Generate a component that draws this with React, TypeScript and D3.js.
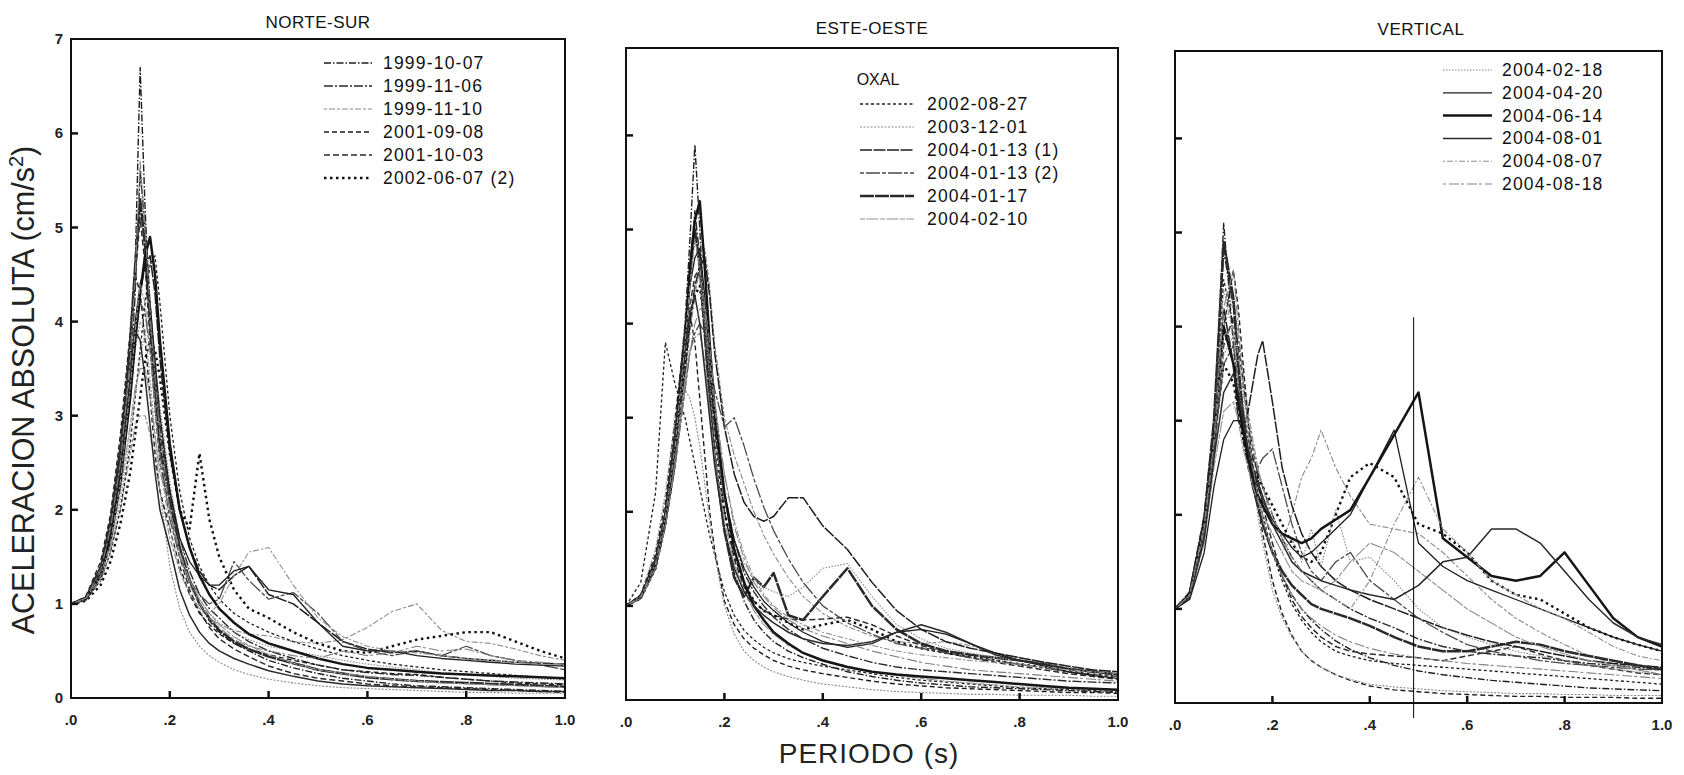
import React from "react";
import * as d3 from "d3";

// ---------------- DATA ----------------
const PERIODS = [0, 0.03, 0.06, 0.08, 0.1, 0.12, 0.13, 0.14, 0.15, 0.16, 0.17, 0.18, 0.2, 0.22, 0.24, 0.26, 0.28, 0.3, 0.33, 0.36, 0.4, 0.45, 0.5, 0.55, 0.6, 0.65, 0.7, 0.75, 0.8, 0.85, 0.9, 0.95, 1.0];
const X_TICKS = [0, 0.2, 0.4, 0.6, 0.8, 1.0];
const X_TICK_LABELS = [".0", ".2", ".4", ".6", ".8", "1.0"];
const Y_TICKS = [0, 1, 2, 3, 4, 5, 6, 7];
const PANEL_TITLES = ["NORTE-SUR", "ESTE-OESTE", "VERTICAL"];
const STATION = "OXAL";
const EVENTS = [
  "1999-10-07", "1999-11-06", "1999-11-10", "2001-09-08", "2001-10-03", "2002-06-07 (2)",
  "2002-08-27", "2003-12-01", "2004-01-13 (1)", "2004-01-13 (2)", "2004-01-17", "2004-02-10",
  "2004-02-18", "2004-04-20", "2004-06-14", "2004-08-01", "2004-08-07", "2004-08-18",
];
const X_TITLE = "PERIODO (s)";
const MARKER_PERIOD = 0.49;
const MARKER_TOP = 4.1;

// Norte-Sur
const NS_SERIES = [
  [1.0,1.06,1.35,1.75,2.5, 3.6,4.6,6.7,5.2,4.1,3.4,2.8, 2.2,1.6,1.25,1.0,0.82,0.7,0.58,0.5, 0.4,0.32,0.26,0.21,0.18,0.15,0.13,0.12,0.11,0.1,0.09,0.08,0.07],
  [1.0,1.05,1.3,1.7,2.4, 3.4,4.3,5.6,5.0,4.2,3.5,2.9, 2.2,1.7,1.35,1.1,0.95,0.85,0.7,0.6, 0.5,0.42,0.35,0.3,0.27,0.25,0.24,0.22,0.2,0.18,0.17,0.16,0.15],
  [1.0,1.04,1.25,1.55,2.0, 2.6,2.9,3.0,3.0,2.8,2.5,2.2, 1.7,1.35,1.1,0.95,0.85,0.78,0.72,0.68, 0.66,0.6,0.58,0.62,0.75,0.92,1.0,0.72,0.6,0.58,0.52,0.45,0.4],
  [1.0,1.08,1.45,1.95,2.8, 3.9,4.5,4.3,3.8,3.2,2.6,2.2, 1.8,1.4,1.1,0.9,0.78,0.68,0.58,0.52, 0.46,0.4,0.35,0.3,0.28,0.26,0.25,0.22,0.2,0.18,0.16,0.15,0.14],
  [1.0,1.07,1.4,1.85,2.6, 3.7,4.5,5.1,4.6,3.8,3.1,2.5, 2.0,1.5,1.15,0.92,0.75,0.63,0.52,0.44, 0.34,0.26,0.21,0.18,0.15,0.13,0.12,0.11,0.1,0.09,0.08,0.07,0.06],
  [1.0,1.03,1.2,1.45,1.85, 2.4,2.8,3.2,3.6,3.8,3.7,3.4, 2.6,2.0,1.8,2.6,1.9,1.5,1.15,0.95, 0.85,0.7,0.58,0.5,0.48,0.55,0.62,0.66,0.7,0.7,0.6,0.5,0.42],
  [1.0,1.04,1.25,1.55,2.0, 2.7,3.2,3.7,4.2,4.6,4.7,4.2, 3.0,2.2,1.7,1.4,1.2,1.05,0.9,0.8, 0.7,0.6,0.52,0.45,0.4,0.36,0.33,0.3,0.28,0.26,0.24,0.22,0.2],
  [1.0,1.05,1.3,1.65,2.3, 3.2,3.7,4.0,3.9,3.4,2.8,2.2, 1.4,0.95,0.7,0.55,0.45,0.38,0.3,0.25, 0.2,0.16,0.13,0.11,0.1,0.09,0.08,0.07,0.06,0.06,0.05,0.05,0.05],
  [1.0,1.05,1.3,1.65,2.3, 3.2,3.8,4.3,4.6,4.7,4.3,3.6, 2.6,2.0,1.6,1.35,1.2,1.15,1.3,1.4, 1.1,1.0,0.8,0.6,0.52,0.48,0.5,0.45,0.42,0.4,0.38,0.37,0.36],
  [1.0,1.06,1.35,1.75,2.5, 3.4,3.9,4.2,4.1,3.7,3.1,2.6, 1.9,1.5,1.25,1.1,1.0,1.05,1.45,1.25, 1.05,1.12,0.9,0.6,0.5,0.45,0.5,0.45,0.55,0.45,0.4,0.35,0.3],
  [1.0,1.06,1.35,1.8,2.6, 3.8,4.6,5.3,4.8,4.0,3.3,2.7, 2.1,1.6,1.25,1.0,0.85,0.72,0.6,0.52, 0.44,0.37,0.3,0.26,0.22,0.2,0.18,0.17,0.16,0.15,0.14,0.13,0.12],
  [1.0,1.05,1.3,1.6,2.2, 2.9,3.3,3.5,3.5,3.2,2.8,2.4, 2.0,1.55,1.25,1.05,0.9,0.78,0.65,0.56, 0.46,0.37,0.3,0.26,0.23,0.2,0.18,0.16,0.15,0.14,0.13,0.12,0.11],
  [1.0,1.04,1.25,1.55,2.1, 2.8,3.2,3.6,3.9,4.0,3.6,3.1, 2.3,1.7,1.3,1.05,0.9,0.8,0.7,0.62, 0.55,0.5,0.45,0.4,0.36,0.33,0.3,0.27,0.25,0.23,0.21,0.2,0.19],
  [1.0,1.05,1.3,1.7,2.4, 3.4,4.0,4.4,4.6,4.2,3.6,3.0, 2.2,1.7,1.45,1.3,1.2,1.2,1.35,1.4, 1.15,1.1,0.8,0.55,0.5,0.5,0.45,0.42,0.4,0.38,0.36,0.35,0.34],
  [1.0,1.05,1.3,1.7,2.3, 3.2,3.8,4.3,4.7,4.9,4.5,3.8, 2.7,2.0,1.6,1.3,1.1,0.95,0.8,0.68, 0.58,0.5,0.42,0.36,0.32,0.3,0.28,0.26,0.25,0.24,0.23,0.22,0.21],
  [1.0,1.07,1.4,1.9,2.7, 3.6,3.9,3.8,3.4,2.9,2.4,2.0, 1.6,1.15,0.88,0.7,0.58,0.5,0.42,0.36, 0.29,0.23,0.18,0.15,0.13,0.12,0.11,0.1,0.09,0.08,0.08,0.07,0.07],
  [1.0,1.05,1.3,1.65,2.3, 3.3,3.9,4.4,4.2,3.7,3.1,2.5, 1.8,1.35,1.1,0.95,0.9,1.0,1.3,1.55, 1.6,1.2,0.85,0.65,0.55,0.5,0.48,0.45,0.42,0.4,0.38,0.36,0.35],
  [1.0,1.06,1.35,1.8,2.5, 3.6,4.5,5.7,5.0,4.1,3.4,2.8, 2.0,1.5,1.2,1.0,0.85,0.75,0.62,0.55, 0.5,0.45,0.42,0.5,0.45,0.48,0.55,0.5,0.52,0.45,0.4,0.38,0.36],
];

// Este-Oeste
const EW_SERIES = [
  [1.0,1.1,1.5,2.0,2.9, 4.0,4.9,5.9,5.0,4.0,3.2,2.6, 1.8,1.35,1.05,0.85,0.72,0.62,0.52,0.45, 0.38,0.3,0.25,0.21,0.18,0.16,0.14,0.13,0.12,0.11,0.1,0.09,0.08],
  [1.0,1.1,1.45,1.95,2.8, 3.9,4.6,5.2,4.7,4.0,3.4,2.9, 2.2,1.7,1.35,1.15,1.0,0.88,0.75,0.65, 0.55,0.47,0.4,0.35,0.32,0.3,0.28,0.26,0.24,0.22,0.2,0.19,0.18],
  [1.0,1.08,1.4,1.85,2.5, 3.4,3.9,4.3,4.6,4.8,4.4,3.8, 3.0,2.6,2.3,2.0,1.75,1.55,1.3,1.1, 0.92,0.78,0.68,0.62,0.6,0.62,0.58,0.5,0.45,0.4,0.35,0.32,0.3],
  [1.0,1.12,1.55,2.1,3.0, 3.9,4.1,3.8,3.2,2.6,2.0,1.6, 1.05,0.8,0.65,0.55,0.48,0.42,0.36,0.32, 0.28,0.24,0.2,0.17,0.15,0.13,0.12,0.11,0.1,0.09,0.08,0.08,0.07],
  [1.0,1.1,1.45,1.95,2.7, 3.7,4.2,4.5,4.6,4.1,3.5,2.9, 2.0,1.5,1.2,1.05,0.95,0.9,0.86,0.85, 0.86,0.88,0.8,0.68,0.58,0.5,0.45,0.4,0.36,0.32,0.28,0.25,0.22],
  [1.0,1.08,1.4,1.9,2.6, 3.6,4.1,4.3,4.4,4.0,3.4,2.8, 2.0,1.55,1.25,1.05,0.95,0.9,0.82,0.75, 0.8,0.85,0.75,0.62,0.55,0.5,0.46,0.42,0.38,0.35,0.3,0.27,0.25],
  [1.0,1.25,2.2,3.8,3.35, 3.0,2.75,2.5,2.25,2.0,1.75,1.55, 1.15,0.9,0.74,0.64,0.56,0.5,0.44,0.4, 0.36,0.32,0.28,0.24,0.21,0.19,0.17,0.15,0.13,0.12,0.11,0.1,0.09],
  [1.0,1.12,1.6,2.2,3.0, 3.3,3.2,3.0,2.7,2.3,1.9,1.55, 1.0,0.7,0.52,0.42,0.35,0.3,0.25,0.21, 0.17,0.14,0.11,0.09,0.08,0.07,0.06,0.06,0.05,0.05,0.05,0.04,0.04],
  [1.0,1.08,1.4,1.85,2.5, 3.5,4.0,4.4,4.6,4.7,4.3,3.7, 2.9,2.4,2.1,1.95,1.9,1.95,2.15,2.15, 1.85,1.6,1.25,0.95,0.75,0.62,0.55,0.5,0.45,0.4,0.36,0.32,0.3],
  [1.0,1.08,1.4,1.85,2.5, 3.3,3.7,3.9,4.0,3.9,3.6,3.3, 2.9,3.0,2.7,2.35,2.05,1.8,1.5,1.25, 1.0,0.82,0.7,0.6,0.55,0.5,0.45,0.42,0.38,0.34,0.3,0.27,0.25],
  [1.0,1.1,1.45,1.95,2.8, 3.9,4.5,5.0,4.6,3.9,3.2,2.6, 1.8,1.3,1.1,1.3,1.2,1.35,0.9,0.85, 1.1,1.4,1.0,0.75,0.6,0.52,0.48,0.45,0.42,0.38,0.33,0.3,0.27],
  [1.0,1.1,1.45,1.9,2.6, 3.4,3.7,3.85,3.9,3.6,3.1,2.6, 1.9,1.45,1.15,0.95,0.8,0.7,0.58,0.5, 0.43,0.36,0.3,0.26,0.23,0.2,0.18,0.16,0.14,0.13,0.12,0.11,0.1],
  [1.0,1.1,1.5,2.0,2.8, 3.7,4.2,4.4,4.5,4.0,3.4,2.8, 2.1,1.7,1.45,1.3,1.2,1.15,1.1,1.2, 1.4,1.45,1.1,0.8,0.65,0.55,0.5,0.45,0.42,0.38,0.34,0.3,0.28],
  [1.0,1.1,1.5,2.0,2.8, 3.8,4.4,4.7,4.8,4.3,3.6,3.0, 2.2,1.7,1.4,1.2,1.05,0.95,0.82,0.72, 0.62,0.56,0.6,0.72,0.75,0.7,0.6,0.5,0.42,0.36,0.3,0.26,0.23],
  [1.0,1.1,1.45,1.95,2.7, 3.8,4.6,5.1,5.3,4.6,3.8,3.1, 2.2,1.6,1.25,1.0,0.85,0.72,0.6,0.5, 0.42,0.35,0.3,0.27,0.25,0.23,0.21,0.19,0.17,0.15,0.13,0.12,0.11],
  [1.0,1.1,1.5,2.0,2.8, 3.7,4.1,4.3,4.0,3.5,3.0,2.5, 1.8,1.4,1.15,1.0,0.9,0.82,0.72,0.65, 0.6,0.58,0.62,0.72,0.8,0.72,0.6,0.48,0.42,0.38,0.33,0.3,0.28],
  [1.0,1.1,1.45,1.95,2.7, 3.8,4.4,4.9,4.6,4.1,3.6,3.1, 2.4,1.9,1.55,1.3,1.12,1.0,0.88,0.8, 0.72,0.65,0.58,0.52,0.48,0.45,0.42,0.4,0.38,0.35,0.32,0.3,0.28],
  [1.0,1.08,1.4,1.85,2.5, 3.3,3.7,4.0,4.15,4.2,3.8,3.2, 2.4,1.85,1.5,1.25,1.1,0.98,0.85,0.76, 0.68,0.6,0.52,0.46,0.4,0.36,0.32,0.3,0.28,0.26,0.24,0.22,0.2],
];

// Vertical
const V_SERIES = [
  [1.0,1.15,1.9,2.9,5.1, 3.8,3.2,2.8,2.5,2.3,2.1,1.9, 1.6,1.35,1.15,1.0,0.88,0.78,0.66,0.57, 0.48,0.4,0.34,0.3,0.27,0.24,0.22,0.2,0.18,0.16,0.15,0.14,0.13],
  [1.0,1.18,2.0,3.0,4.8, 4.2,3.6,3.1,2.8,2.6,2.45,2.3, 2.0,1.75,1.55,1.4,1.3,1.2,1.1,1.0, 0.9,0.8,0.68,0.6,0.55,0.52,0.5,0.48,0.45,0.42,0.4,0.38,0.35],
  [1.0,1.14,1.85,2.8,4.0, 4.3,3.9,3.5,3.1,2.8,2.5,2.3, 1.9,1.7,2.0,2.4,2.6,2.9,2.5,2.2, 1.9,1.85,1.8,1.6,1.35,1.1,0.9,0.75,0.62,0.5,0.42,0.36,0.3],
  [1.0,1.12,1.8,2.7,4.0, 4.6,4.2,3.6,3.0,2.5,2.1,1.8, 1.3,0.95,0.72,0.55,0.45,0.38,0.3,0.24, 0.18,0.14,0.12,0.1,0.09,0.08,0.07,0.07,0.06,0.06,0.06,0.05,0.05],
  [1.0,1.12,1.75,2.6,3.8, 4.1,3.8,3.4,3.0,2.7,2.4,2.1, 1.7,1.35,1.1,0.92,0.8,0.7,0.6,0.55, 0.52,0.5,0.48,0.45,0.5,0.55,0.6,0.52,0.45,0.4,0.36,0.32,0.3],
  [1.0,1.15,1.9,2.8,3.6, 3.4,3.1,2.8,2.6,2.5,2.4,2.3, 2.1,1.9,1.7,1.55,1.5,1.6,2.0,2.4, 2.55,2.4,1.9,1.8,1.6,1.3,1.15,1.1,0.95,0.8,0.7,0.62,0.55],
  [1.0,1.16,1.95,2.9,4.5, 4.0,3.5,3.1,2.8,2.5,2.25,2.0, 1.6,1.3,1.05,0.88,0.75,0.65,0.55,0.5, 0.45,0.42,0.4,0.38,0.36,0.34,0.32,0.3,0.28,0.26,0.24,0.22,0.2],
  [1.0,1.13,1.8,2.7,3.7, 3.9,3.6,3.2,2.8,2.4,2.0,1.7, 1.2,0.9,0.7,0.55,0.45,0.38,0.3,0.25, 0.2,0.17,0.15,0.13,0.12,0.11,0.1,0.1,0.09,0.09,0.08,0.08,0.08],
  [1.0,1.15,1.9,2.8,4.2, 3.6,3.0,2.9,3.1,3.4,3.7,3.85, 3.2,2.5,2.1,1.8,1.6,1.45,1.3,1.2, 1.1,1.0,0.9,0.8,0.72,0.65,0.6,0.55,0.5,0.45,0.42,0.4,0.38],
  [1.0,1.12,1.8,2.7,3.6, 3.8,3.4,3.0,2.6,2.4,2.5,2.6, 2.7,2.3,1.9,1.6,1.4,1.3,1.5,1.6, 1.3,1.1,0.9,0.75,0.62,0.55,0.5,0.45,0.42,0.4,0.38,0.36,0.35],
  [1.0,1.16,1.95,3.0,4.9, 4.3,3.6,3.0,2.6,2.3,2.1,1.9, 1.6,1.4,1.25,1.15,1.05,1.0,0.95,0.9, 0.82,0.7,0.6,0.55,0.55,0.6,0.65,0.62,0.55,0.5,0.45,0.4,0.36],
  [1.0,1.12,1.7,2.5,3.1, 3.2,3.0,2.7,2.5,2.3,2.15,2.0, 1.8,1.6,1.4,1.3,1.25,1.2,1.3,1.5, 1.7,1.6,1.4,1.2,1.0,0.85,0.7,0.6,0.52,0.45,0.4,0.35,0.3],
  [1.0,1.15,1.9,2.85,4.4, 3.9,3.4,3.0,2.7,2.4,2.2,2.0, 1.8,1.6,1.75,1.5,1.85,1.45,2.05,1.5, 1.55,1.3,1.0,0.8,0.7,0.62,0.55,0.5,0.45,0.4,0.36,0.33,0.3],
  [1.0,1.1,1.6,2.3,2.8, 3.0,3.0,2.9,2.7,2.5,2.3,2.15, 1.95,1.8,1.65,1.55,1.6,1.7,1.85,2.0, 2.4,2.9,1.7,1.45,1.3,1.2,1.1,1.0,0.9,0.8,0.7,0.62,0.55],
  [1.0,1.15,1.9,2.8,4.0, 3.6,3.2,2.9,2.6,2.4,2.2,2.1, 1.9,1.8,1.75,1.7,1.75,1.85,1.95,2.05, 2.4,2.85,3.3,1.75,1.55,1.35,1.3,1.35,1.6,1.25,0.9,0.7,0.6],
  [1.0,1.12,1.75,2.6,3.3, 3.5,3.3,3.0,2.7,2.5,2.35,2.2, 1.9,1.7,1.5,1.4,1.35,1.3,1.25,1.2, 1.15,1.1,1.25,1.5,1.55,1.85,1.85,1.7,1.4,1.1,0.85,0.7,0.62],
  [1.0,1.14,1.85,2.75,3.9, 4.0,3.7,3.3,3.0,2.7,2.5,2.3, 2.0,1.75,1.55,1.4,1.3,1.2,1.1,1.0, 1.3,1.9,2.4,1.85,1.6,1.3,1.15,1.0,0.9,0.75,0.6,0.5,0.45],
  [1.0,1.15,1.9,2.8,4.2, 4.6,4.0,3.4,2.9,2.5,2.2,1.95, 1.6,1.35,1.15,1.0,0.9,0.82,0.72,0.65, 0.58,0.52,0.48,0.45,0.42,0.4,0.38,0.36,0.34,0.32,0.3,0.28,0.26],
];

const PANEL_SERIES = [NS_SERIES, EW_SERIES, V_SERIES];

// ---------------- STYLE / LAYOUT ----------------
const W = 1684;
const H = 775;
const FONT = "'Liberation Sans', Arial, Helvetica, sans-serif";

const STYLES = [
  { dash: "7,2,1.5,2", color: "#1e1e1e", width: 1.4 },
  { dash: "9,2,2,2", color: "#2a2a2a", width: 1.4 },
  { dash: "3,2,6,2", color: "#8a8a8a", width: 1.1 },
  { dash: "5,3", color: "#1e1e1e", width: 1.4 },
  { dash: "6,3", color: "#2a2a2a", width: 1.5 },
  { dash: "2.5,3.5", color: "#111", width: 2.4 },
  { dash: "3,2.5", color: "#1e1e1e", width: 1.3 },
  { dash: "2,1.5", color: "#8a8a8a", width: 1.1 },
  { dash: "12,1.5", color: "#1e1e1e", width: 1.5 },
  { dash: "4,2,14,2", color: "#4a4a4a", width: 1.3 },
  { dash: "14,1", color: "#2a2a2a", width: 2.5 },
  { dash: "5,1.5,12,1.5", color: "#909090", width: 1.1 },
  { dash: "1.5,1.5", color: "#888", width: 1.1 },
  { dash: "none", color: "#1e1e1e", width: 1.3 },
  { dash: "none", color: "#151515", width: 2.5 },
  { dash: "none", color: "#2a2a2a", width: 1.5 },
  { dash: "2,2,6,2", color: "#909090", width: 1.1 },
  { dash: "3,3,10,2", color: "#808080", width: 1.1 },
];

const PANELS = [
  { left: 71, right: 565, bottom: 698, top: 39, titleX: 318, titleY: 28,
    leg: { x0: 324, x1: 372, tx: 383, y0: 63, dy: 23, header: false, events: [0, 1, 2, 3, 4, 5] } },
  { left: 626, right: 1118, bottom: 700, top: 48, titleX: 872, titleY: 34,
    leg: { x0: 860, x1: 914, tx: 927, y0: 104, dy: 23, header: true, events: [6, 7, 8, 9, 10, 11] } },
  { left: 1175, right: 1662, bottom: 703, top: 51, titleX: 1421, titleY: 35,
    leg: { x0: 1443, x1: 1492, tx: 1502, y0: 70, dy: 22.8, header: false, events: [12, 13, 14, 15, 16, 17] } },
];

const UNIT_PX = 94.1;

function Panel({ p, idx }: { p: any; idx: number }) {
  const x = d3.scaleLinear().domain([0, 1]).range([p.left, p.right]);
  const y = d3.scaleLinear().domain([0, 7]).range([p.bottom, p.bottom - 7 * UNIT_PX]);
  const line = d3
    .line<[number, number]>()
    .x((d) => x(d[0]))
    .y((d) => y(d[1]))
    .curve(d3.curveLinear);
  const series = PANEL_SERIES[idx];
  return (
    <g>
      <text x={p.titleX} y={p.titleY} textAnchor="middle" fontFamily={FONT} fontSize={17} fill="#111" letterSpacing={0.5}>
        {PANEL_TITLES[idx]}
      </text>
      <clipPath id={`clip${idx}`}>
        <rect x={p.left} y={p.top} width={p.right - p.left} height={p.bottom - p.top} />
      </clipPath>
      <g clipPath={`url(#clip${idx})`}>
        {series.map((vals, i) => {
          const pts = vals
            .map((v, j) => [PERIODS[j], v] as [number, number])
            .filter((d) => d[0] !== undefined);
          const st = STYLES[i];
          return (
            <path
              key={i}
              d={line(pts) || ""}
              fill="none"
              stroke={st.color}
              strokeWidth={st.width}
              strokeDasharray={st.dash}
              strokeLinejoin="round"
            />
          );
        })}
      </g>
      <rect x={p.left} y={p.top} width={p.right - p.left} height={p.bottom - p.top} fill="none" stroke="#111" strokeWidth={2} />
      {Y_TICKS.filter((t) => t > 0 && t < 7).map((t) => (
        <line key={t} x1={p.left} x2={p.left + 7} y1={y(t)} y2={y(t)} stroke="#111" strokeWidth={2.5} />
      ))}
      {idx === 0 &&
        Y_TICKS.map((t) => (
          <text key={t} x={p.left - 8} y={y(t) + 5} textAnchor="end" fontFamily={FONT} fontSize={15} fontWeight="bold" fill="#222">
            {t}
          </text>
        ))}
      {X_TICKS.filter((t) => t > 0 && t < 1).map((t) => (
        <line key={t} x1={x(t)} x2={x(t)} y1={p.bottom} y2={p.bottom - 7} stroke="#111" strokeWidth={2.5} />
      ))}
      {X_TICKS.map((t, k) => (
        <text key={t} x={x(t)} y={p.bottom + 27} textAnchor="middle" fontFamily={FONT} fontSize={15} fontWeight="bold" fill="#222">
          {X_TICK_LABELS[k]}
        </text>
      ))}
      {p.leg.header && (
        <text x={p.leg.x0 + 18} y={p.leg.y0 - 19} textAnchor="middle" fontFamily={FONT} fontSize={16} fill="#111">
          {STATION}
        </text>
      )}
      {p.leg.events.map((e: number, k: number) => {
        const yy = p.leg.y0 + k * p.leg.dy;
        const st = STYLES[e];
        return (
          <g key={e}>
            <line x1={p.leg.x0} x2={p.leg.x1} y1={yy} y2={yy} stroke={st.color} strokeWidth={st.width} strokeDasharray={st.dash} />
            <text x={p.leg.tx} y={yy + 6} fontFamily={FONT} fontSize={17.5} fill="#111" letterSpacing={1.2}>
              {EVENTS[e]}
            </text>
          </g>
        );
      })}
      {idx === 2 && (
        <line x1={x(MARKER_PERIOD)} x2={x(MARKER_PERIOD)} y1={y(MARKER_TOP)} y2={p.bottom + 15} stroke="#000" strokeWidth={1} />
      )}
    </g>
  );
}

export default function App() {
  return (
    <svg width={W} height={H} style={{ position: "absolute", left: 0, top: 0, background: "#fff" }}>
      <rect x={0} y={0} width={W} height={H} fill="#fff" />
      {PANELS.map((p, i) => (
        <Panel key={i} p={p} idx={i} />
      ))}
      <text
        transform={`translate(34, 390) rotate(-90)`}
        textAnchor="middle"
        fontFamily={FONT}
        fontSize={30.5}
        fill="#222"
      >
        ACELERACION ABSOLUTA (cm/s
        <tspan dy={-11} fontSize={20}>2</tspan>
        <tspan dy={11}>)</tspan>
      </text>
      <text x={869} y={763} textAnchor="middle" fontFamily={FONT} fontSize={28} fill="#222" letterSpacing={1}>
        {X_TITLE}
      </text>
    </svg>
  );
}
